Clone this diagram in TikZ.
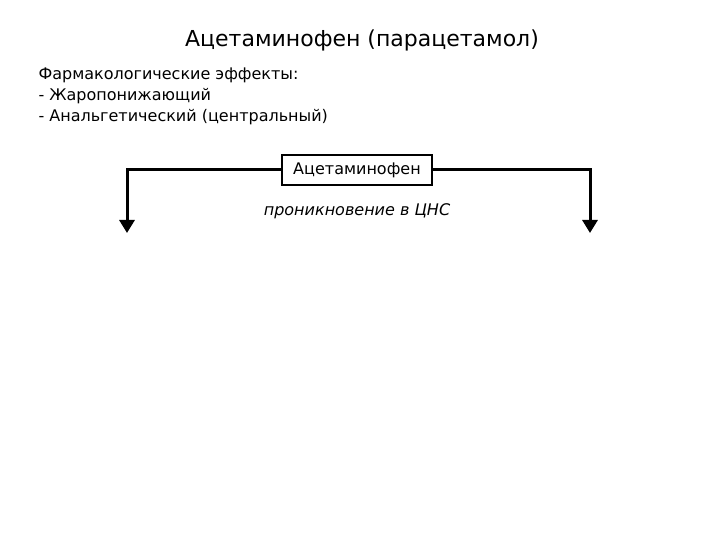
\documentclass[tikz,border=0pt]{standalone}
\usepackage{fontspec}
\setmainfont{DejaVu Sans}
\usetikzlibrary{arrows.meta}

\begin{document}
\begin{tikzpicture}[x={1pt},y={-1pt}]
\useasboundingbox (0,0) rectangle (720,540);
\node[anchor=center,font=\fontsize{22}{26}\selectfont] (title) at (362,40) {Ацетаминофен (парацетамол)};
\node[anchor=west,font=\fontsize{16}{19}\selectfont] (effects) at (35,75) {Фармакологические эффекты:};
\node[anchor=west,font=\fontsize{16}{19}\selectfont] (antipyretic) at (35,96) {- Жаропонижающий};
\node[anchor=west,font=\fontsize{16}{19}\selectfont] (analgesic) at (35,117) {- Анальгетический (центральный)};

\node[draw,line width=2pt,minimum width=150,minimum height=30,inner sep=0,font=\fontsize{16}{19}\selectfont] (drug) at (357,170) {Ацетаминофен};
\node[anchor=center,font=\fontsize{16}{19}\selectfont\itshape] (cns) at (357,211) {проникновение в ЦНС};

\coordinate (lefttip) at (127,233);
\coordinate (righttip) at (590,233);
\draw[line width=3pt,-{Triangle[width=15pt,length=13pt]}] (drug.west) -| (lefttip);
\draw[line width=3pt,-{Triangle[width=15pt,length=13pt]}] (drug.east) -| (righttip);
\end{tikzpicture}
\end{document}
